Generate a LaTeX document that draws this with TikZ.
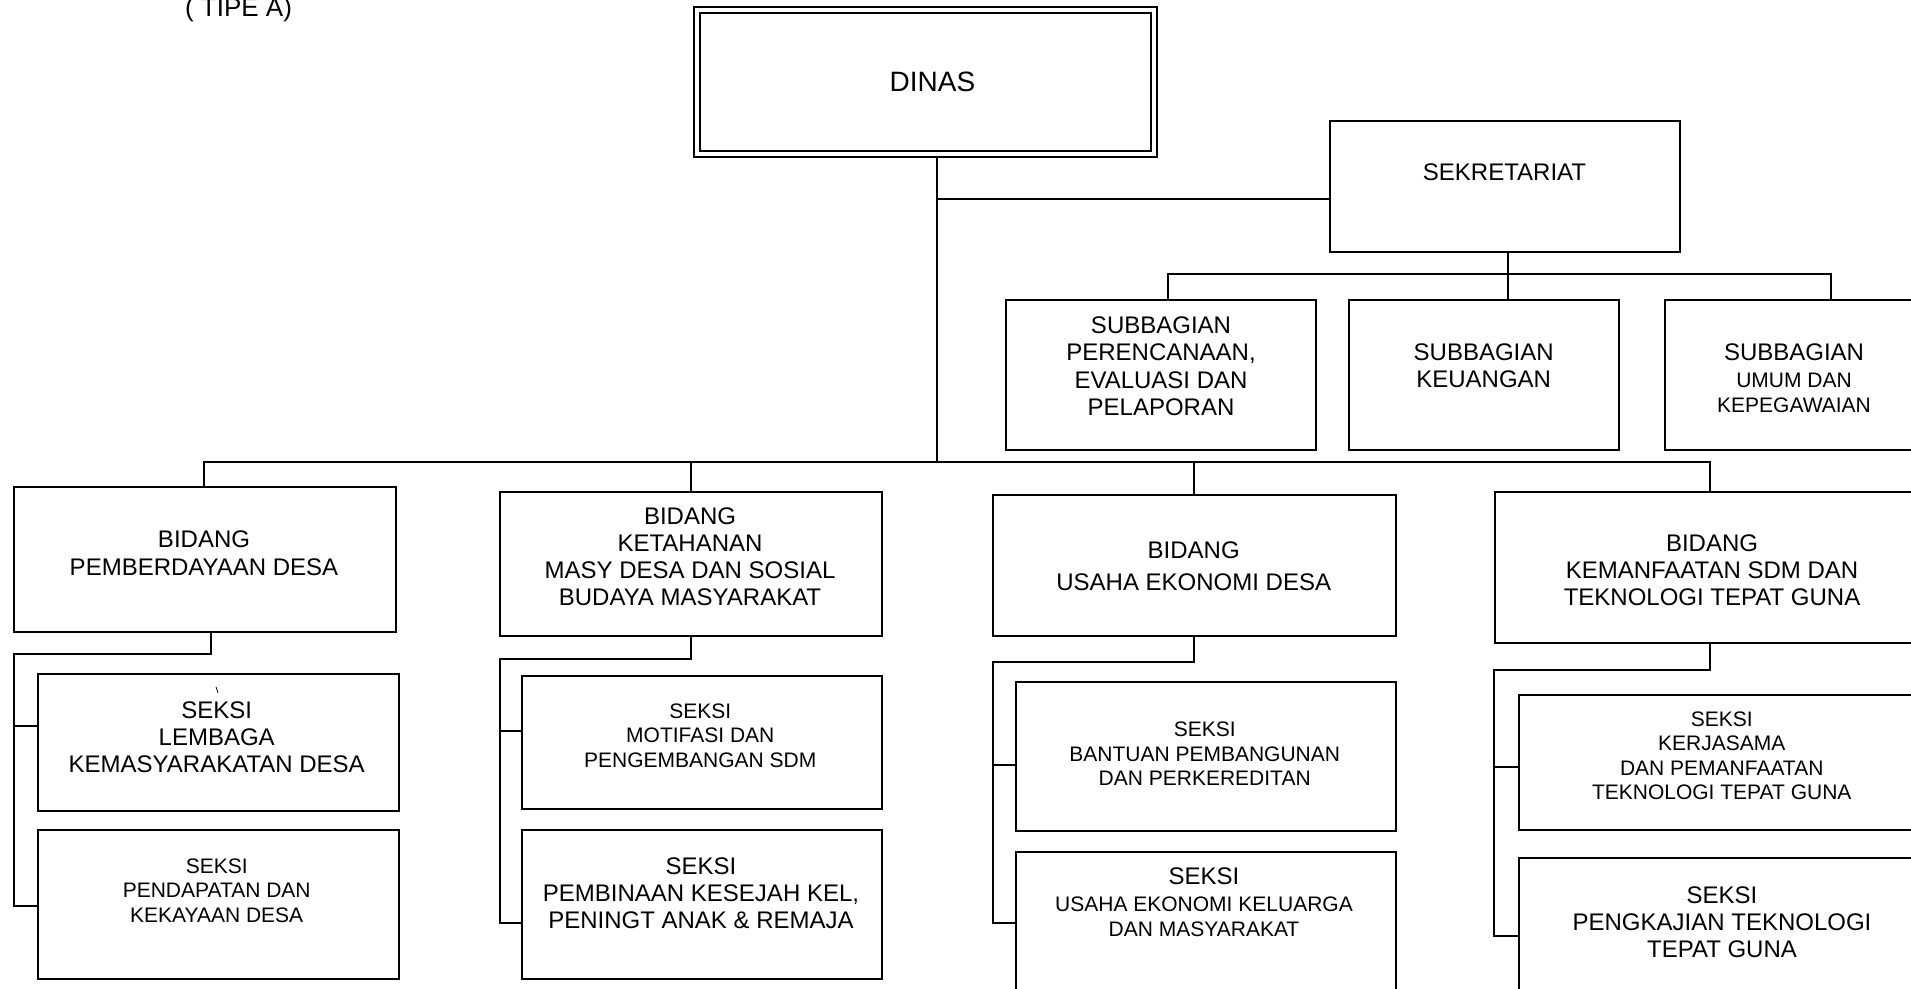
\documentclass[tikz,border=0pt]{standalone}
\usepackage{fontspec}
\setmainfont{Liberation Sans}
\pgfdeclarelayer{background}
\pgfsetlayers{background,main}
\begin{document}
\begin{tikzpicture}[x=0.5pt,y=-0.5pt,
  unit/.style={draw, line width=1pt, fill=white, rectangle, inner sep=0pt, anchor=north west},
  boxwh/.style 2 args={minimum width=#1*0.5pt, minimum height=#2*0.5pt},
  bigtxt/.style={font=\fontsize{12}{13.6}\selectfont},
  smalltxt/.style={font=\fontsize{10.5}{12.25}\selectfont},
  ttl/.style={align=center, inner sep=0pt, anchor=north},
  link/.style={line width=1pt},
]
\useasboundingbox (0,0) rectangle (1911,989);
\clip (0,0) rectangle (1911,989);

% heading
\node[inner sep=0pt, anchor=base, font=\fontsize{13}{15}\selectfont] (tipe) at (238.5,16.7) {( TIPE A)};

% head of office
\node[unit, double, double distance=1.8pt, boxwh={457.15}{144.15}] (dinas) at (695.75,8.85) {};
\node[inner sep=0pt, font=\fontsize{14}{16}\selectfont] (tdinas) at (932.4,81.7) {DINAS};

% secretariat and its sub-sections
\node[unit, boxwh={350.5}{130.7}] (sek) at (1328.7,120) {};
\node[inner sep=0pt, bigtxt] (tsek) at (1504.5,172.7) {SEKRETARIAT};

\node[unit, boxwh={309.6}{149.7}] (sub1) at (1005,299.3) {};
\node[unit, boxwh={270}{149.7}] (sub2) at (1348,299.3) {};
\node[unit, boxwh={270}{149.7}] (sub3) at (1663.8,299.3) {};
\node[ttl, bigtxt] (tsub1) at (1161,316.6) {SUBBAGIAN\\PERENCANAAN,\\EVALUASI DAN\\PELAPORAN};
\node[ttl, bigtxt] (tsub2) at (1483.7,343.3) {SUBBAGIAN\\KEUANGAN};
\node[ttl, smalltxt] (tsub3) at (1794,343.3) {{\fontsize{12}{13.6}\selectfont SUBBAGIAN}\\[1.4pt]UMUM DAN\\KEPEGAWAIAN};

% divisions
\node[unit, boxwh={381.7}{144.6}] (bid1) at (13.3,486.2) {};
\node[unit, boxwh={381.7}{144.2}] (bid2) at (499.3,490.8) {};
\node[unit, boxwh={402.7}{141.4}] (bid3) at (992.3,493.6) {};
\node[unit, boxwh={436}{151.2}] (bid4) at (1494,490.8) {};
\node[ttl, bigtxt] (tbid1) at (204,530.7) {BIDANG\\PEMBERDAYAAN DESA};
\node[ttl, bigtxt] (tbid2) at (690,506.9) {BIDANG\\KETAHANAN\\MASY DESA DAN SOSIAL\\BUDAYA MASYARAKAT};
\node[ttl, bigtxt] (tbid3) at (1193.7,541.2) {BIDANG\\[2.4pt]USAHA EKONOMI DESA};
\node[ttl, bigtxt] (tbid4) at (1712,534.2) {BIDANG\\KEMANFAATAN SDM DAN\\TEKNOLOGI TEPAT GUNA};

% sections
\node[unit, boxwh={361}{137.3}] (sk1a) at (36.7,672.8) {};
\node[unit, boxwh={361}{148.1}] (sk1b) at (36.7,829.4) {};
\node[unit, boxwh={360.3}{132.3}] (sk2a) at (520.7,675.3) {};
\node[unit, boxwh={360.3}{148.8}] (sk2b) at (520.7,828.7) {};
\node[unit, boxwh={380.3}{149.9}] (sk3a) at (1014.7,680.5) {};
\node[unit, boxwh={380.3}{160}] (sk3b) at (1014.7,851.4) {};
\node[unit, boxwh={412.3}{134.8}] (sk4a) at (1517.7,693.9) {};
\node[unit, boxwh={412.3}{150}] (sk4b) at (1517.7,857.4) {};

\node[ttl, bigtxt] (tsk1a) at (216.7,701.2) {SEKSI\\LEMBAGA\\KEMASYARAKATAN DESA};
\draw[line width=0.4pt] (216,686.8) -- (218,692.8);
\node[ttl, smalltxt] (tsk1b) at (216.7,858) {SEKSI\\PENDAPATAN DAN\\KEKAYAAN DESA};
\node[ttl, smalltxt] (tsk2a) at (700.3,703) {SEKSI\\MOTIFASI DAN\\PENGEMBANGAN SDM};
\node[ttl, bigtxt] (tsk2b) at (701,857) {SEKSI\\PEMBINAAN KESEJAH KEL,\\PENINGT ANAK \& REMAJA};
\node[ttl, smalltxt] (tsk3a) at (1204.7,721.5) {SEKSI\\BANTUAN PEMBANGUNAN\\DAN PERKEREDITAN};
\node[ttl, smalltxt] (tsk3b) at (1204,867.5) {{\fontsize{12}{13.6}\selectfont SEKSI}\\[1.25pt]USAHA EKONOMI KELUARGA\\DAN MASYARAKAT};
\node[ttl, smalltxt] (tsk4a) at (1721.7,711) {SEKSI\\KERJASAMA\\DAN PEMANFAATAN\\TEKNOLOGI TEPAT GUNA};
\node[ttl, bigtxt] (tsk4b) at (1722,886.1) {SEKSI\\PENGKAJIAN TEKNOLOGI\\TEPAT GUNA};

% connector junctions
\coordinate (trunk) at (937,462);
\coordinate (sektap) at (937,199);
\coordinate (sekbar) at (1507.6,274);
\coordinate (d1) at (1168,274);
\coordinate (d3) at (1831,274);
\coordinate (b1) at (204,462);
\coordinate (b2) at (690.7,462);
\coordinate (b3) at (1194,462);
\coordinate (b4) at (1710,462);
\coordinate (e1) at (210.7,653.6);  \coordinate (p1) at (14,653.6);
\coordinate (r1a) at (14,726.4);    \coordinate (r1b) at (14,906.4);
\coordinate (e2) at (690.7,658.8);  \coordinate (p2) at (500,658.8);
\coordinate (r2a) at (500,730.6);   \coordinate (r2b) at (500,923.2);
\coordinate (e3) at (1194,661.6);   \coordinate (p3) at (992.7,661.6);
\coordinate (r3a) at (992.7,764.6); \coordinate (r3b) at (992.7,923.2);
\coordinate (e4) at (1710,670);     \coordinate (p4) at (1494.3,670);
\coordinate (r4a) at (1494.3,767.4); \coordinate (r4b) at (1494.3,936.2);

\begin{pgfonlayer}{background}
  % head to divisions and secretariat
  \draw[link] (dinas.center -| trunk) -- (trunk);
  \draw[link] (sektap) -- (sektap -| sek.west);
  \draw[link] (b1 |- bid1.north) -- (b1) -- (b4) -- (b4 |- bid4.north);
  \draw[link] (b2) -- (b2 |- bid2.north);
  \draw[link] (b3) -- (b3 |- bid3.north);
  % secretariat to sub-sections
  \draw[link] (sekbar |- sek.south) -- (sekbar |- sub2.north);
  \draw[link] (d1 |- sub1.north) -- (d1) -- (d3) -- (d3 |- sub3.north);
  % divisions to sections
  \draw[link] (e1 |- bid1.south) -- (e1) -- (p1) -- (r1b) -- (r1b -| sk1b.west);
  \draw[link] (r1a) -- (r1a -| sk1a.west);
  \draw[link] (e2 |- bid2.south) -- (e2) -- (p2) -- (r2b) -- (r2b -| sk2b.west);
  \draw[link] (r2a) -- (r2a -| sk2a.west);
  \draw[link] (e3 |- bid3.south) -- (e3) -- (p3) -- (r3b) -- (r3b -| sk3b.west);
  \draw[link] (r3a) -- (r3a -| sk3a.west);
  \draw[link] (e4 |- bid4.south) -- (e4) -- (p4) -- (r4b) -- (r4b -| sk4b.west);
  \draw[link] (r4a) -- (r4a -| sk4a.west);
\end{pgfonlayer}
\end{tikzpicture}
\end{document}
